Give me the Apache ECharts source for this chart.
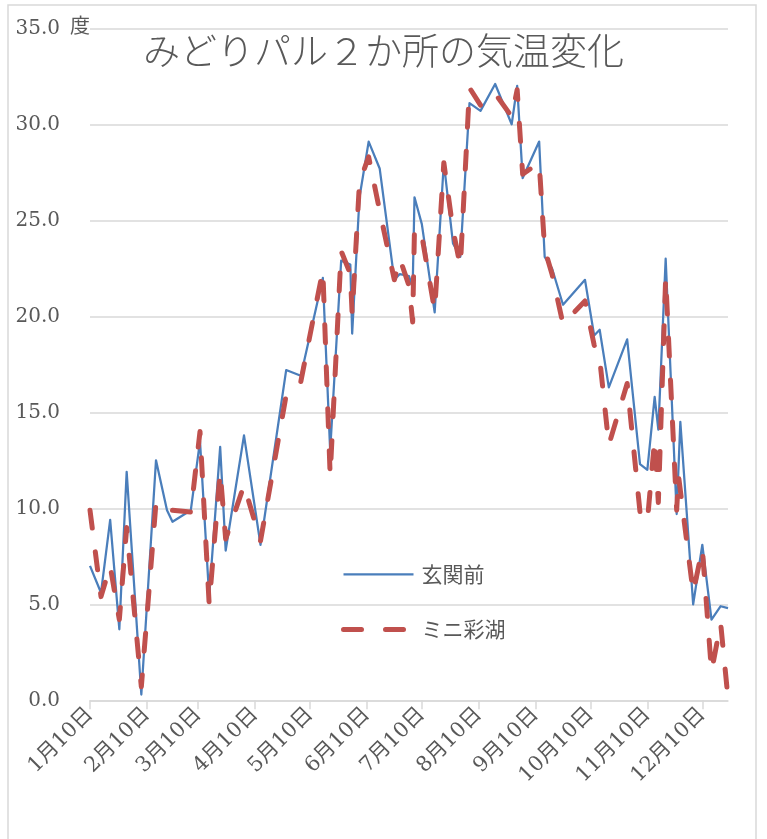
<!DOCTYPE html>
<html>
<head>
<meta charset="utf-8">
<script src="https://cdn.jsdelivr.net/npm/echarts@6/dist/echarts.min.js"></script>
<style>
html,body{margin:0;padding:0;background:#fff;}
#chart{width:767px;height:839px;}
</style>
</head>
<body>
<div id="chart"></div>
<script>
// ---- data ----
const titleText = 'みどりパル２か所の気温変化';
const seriesNames = ['玄関前', 'ミニ彩湖'];
const startDate = '1/10';
const endDate = '12/24';
const dates = ['1/10','1/16','1/21','1/26','1/30','2/7','2/15','2/21','2/24','3/6',
  '3/11','3/16','3/22','3/25','4/4','4/13','4/27','5/5','5/17','5/21',
  '5/27','6/1','6/2','6/6','6/11','6/17','6/25','6/28','7/3','7/5',
  '7/6','7/10','7/17','7/22','7/27','7/31','8/5','8/11','8/19','8/28',
  '8/31','9/3','9/12','9/15','9/19','9/25','10/7','10/12','10/15','10/20',
  '10/30','11/6','11/10','11/14','11/16','11/20','11/26','11/27','11/28','12/5',
  '12/10','12/15','12/20','12/24'];
const genkanmae = [7.0,5.6,9.4,3.7,11.9,0.3,12.5,9.9,9.3,9.9,
  13.5,5.4,13.2,7.8,13.8,8.1,17.2,16.9,22.0,13.0,
  22.9,22.7,19.1,26.2,29.1,27.7,21.9,22.2,22.1,21.5,
  26.2,24.8,20.2,28.0,23.8,23.1,31.1,30.7,32.1,30.0,
  32.0,27.2,29.1,23.1,22.5,20.6,21.9,19.0,19.3,16.3,
  18.8,12.3,12.0,15.8,14.1,23.0,9.7,null,14.5,5.0,
  8.1,4.2,4.9,4.8];
const miniSaiko = [9.9,5.4,7.0,4.2,9.0,0.7,10.3,9.9,9.9,9.8,
  14.0,5.0,11.9,8.4,11.2,8.3,15.9,16.6,22.4,11.7,
  23.4,22.2,20.1,27.0,28.3,25.5,21.9,23.0,21.6,19.7,
  24.6,24.2,20.3,28.0,24.5,22.6,31.9,31.0,31.6,30.4,
  31.8,27.4,28.0,23.5,22.2,19.6,20.8,18.5,17.8,13.3,
  16.5,9.8,9.3,13.6,10.3,22.0,9.9,11.7,null,5.6,
  7.9,1.5,4.0,0.1];
const yTicks = [0, 5, 10, 15, 20, 25, 30, 35];
const unitText = '度';

// ---- build daily category axis ----
function toDate(md){ const [m,d] = md.split('/').map(Number); return Date.UTC(2015, m-1, d); }
function label(ts){ const dt = new Date(ts); return (dt.getUTCMonth()+1) + '月' + dt.getUTCDate() + '日'; }
const DAY = 86400000;
const t0 = toDate(startDate), t1 = toDate(endDate);
const categories = [];
for (let t = t0; t <= t1; t += DAY) categories.push(label(t));
function daily(vals){
  const arr = new Array(categories.length).fill(null);
  dates.forEach((md,i)=>{ const idx = Math.round((toDate(md)-t0)/DAY); if (vals[i] !== null) arr[idx] = vals[i]; });
  return arr;
}
const isTenth = (idx, val) => /月10日$/.test(val);

const FONT_NUM = "'DejaVu Serif', 'Noto Sans CJK JP', serif";
const FONT_JP = "'Noto Sans CJK JP', sans-serif";
const GRAY = '#595959';
const LINEGRAY = '#d9d9d9';

const chart = echarts.init(document.getElementById('chart'), null, {renderer: 'canvas'});
chart.setOption({
  backgroundColor: '#fff',
  animation: false,
  title: {
    text: titleText, left: 'center', top: 27,
    textStyle: {fontFamily: FONT_JP, fontSize: 37, fontWeight: 300, color: GRAY}
  },
  graphic: [
    {type: 'rect', shape: {x: 8, y: 5, width: 748, height: 850}, style: {fill: 'none', stroke: LINEGRAY, lineWidth: 1.5}, silent: true, z: -1},
    {type: 'text', left: 70, top: 15, style: {text: unitText, font: "20px 'Noto Sans CJK JP'", fill: GRAY}}
  ],
  legend: {
    orient: 'vertical', left: 341, top: 564, padding: 0,
    itemWidth: 70, itemHeight: 14, itemGap: 34,
    itemStyle: {opacity: 0},
    lineStyle: {width: 'inherit'},
    textStyle: {fontFamily: FONT_JP, fontSize: 21, color: GRAY, padding: [0,0,0,3]},
    data: seriesNames
  },
  grid: {left: 90, right: 39, top: 28.3, bottom: 138.7, containLabel: false},
  xAxis: {
    type: 'category', data: categories, boundaryGap: false,
    axisLine: {lineStyle: {color: LINEGRAY, width: 1.5}},
    axisTick: {show: true, interval: isTenth, length: 9, lineStyle: {color: LINEGRAY, width: 1.5}},
    axisLabel: {interval: isTenth, rotate: 45, margin: 11, fontFamily: FONT_NUM, fontSize: 21, color: GRAY},
    splitLine: {show: false}
  },
  yAxis: {
    type: 'value', min: yTicks[0], max: yTicks[yTicks.length-1], interval: yTicks[1]-yTicks[0],
    axisLine: {show: false}, axisTick: {show: false},
    axisLabel: {margin: 30, fontFamily: FONT_NUM, fontSize: 20, color: GRAY, formatter: v => v.toFixed(1)},
    splitLine: {lineStyle: {color: LINEGRAY, width: 1.5}}
  },
  series: [
    {
      name: seriesNames[0], type: 'line', data: daily(genkanmae), connectNulls: true,
      symbol: 'none', showSymbol: false, z: 2,
      itemStyle: {color: '#4A7EBB'},
      lineStyle: {color: '#4A7EBB', width: 2.25, join: 'round'}
    },
    {
      name: seriesNames[1], type: 'line', data: daily(miniSaiko), connectNulls: true,
      symbol: 'none', showSymbol: false, z: 3,
      itemStyle: {color: '#C0504D'},
      lineStyle: {color: '#C0504D', width: 5, type: [18, 24], cap: 'round', join: 'round'}
    }
  ]
});
</script>
</body>
</html>
